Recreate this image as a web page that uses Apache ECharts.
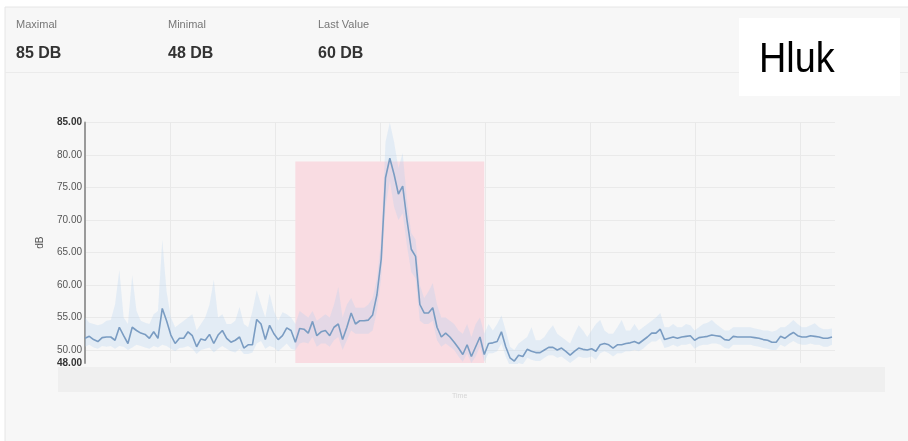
<!DOCTYPE html>
<html>
<head>
<meta charset="utf-8">
<script src="https://cdn.jsdelivr.net/npm/echarts@6/dist/echarts.min.js"></script>
<style>
  html, body { margin: 0; padding: 0; background: #fff; }
  #chart { width: 908px; height: 441px; }
</style>
</head>
<body>
<div id="chart"></div>
<script>
// header stats
const statLabels = ["Maximal", "Minimal", "Last Value"];
const statValues = ["85 DB", "48 DB", "60 DB"];
const chartTitle = "Hluk";

// noise level (dB), mean line
const values = [
    51.8, 52.1, 51.6, 51.3, 51.9, 52, 52, 51.5, 53.5, 52.2,
    51, 53.5, 53, 52.6, 52.4, 51.8, 52.8, 51.8, 56.4, 54.5,
    52.3, 51, 51.8, 51.8, 52.8, 52.2, 50.5, 51.7, 51.5, 52.4,
    51, 52.3, 53, 51.8, 51.2, 51.5, 52, 50.3, 50.8, 50.8,
    54.7, 54, 51.6, 53.8, 52.5, 51.6, 52.2, 53.4, 53,
    51.2, 53.3, 53.2, 52.6, 54.4, 52.2, 52.8, 53, 52.2, 53.5,
    54, 51.6, 53.5, 55.7, 54, 54.5, 54.5, 54.6, 55.4, 58.5,
    64, 76.5, 79.5, 77, 74, 75.2, 70, 65.5, 64.4, 57,
    55.7, 55.7, 56.5, 53.5, 52, 52.6, 52, 51.2, 50.3, 49.3,
    50.8, 49, 50.5, 52, 49.3, 51,
    51.1, 51.3, 52.8, 50.5, 48.8, 48.3, 49.2, 49, 50.1, 49.8,
    49.6, 49.6, 50, 50.4, 50.4, 50, 50.3, 49.8, 49.2, 49.8,
    50.3, 50.1, 50, 50.2, 49.8, 50.8, 51, 50.8, 50.3, 50.8,
    50.8, 51, 51.1, 51.3, 51, 51.5, 52, 52.6, 52.6, 53.2,
    51.6, 51.8, 52, 51.8, 52, 52.1, 52.2, 51.5, 51.9, 52,
    52.1, 52.3, 52.2, 52.1, 51.6, 51.5, 52.1, 52, 52, 52,
    52, 51.9, 51.8, 51.6, 51.5, 51.2, 51.2, 52.1, 51.8, 52.3,
    52.7, 52.2, 52, 52, 52.2, 52.1, 52, 51.8, 51.8, 52
];

// band: upper bound
const upper = [
    55, 54.2, 54, 53.8, 54, 54.5, 54.6, 57, 62.3, 55,
    54, 61.5, 56, 54.5, 54.2, 54, 55.5, 56, 67, 59,
    55, 53.5, 54, 54.5, 55, 55.5, 53, 54, 55, 57,
    60.8, 55, 55.5, 54, 54, 54.5, 56.6, 54, 53.5, 56,
    59.2, 57, 55, 58.7, 56, 54.5, 55.8, 55.5, 55,
    54, 56, 55.5, 55, 56, 54.5, 55, 55.5, 55, 57,
    59.7, 55, 57, 58, 56.5, 56.5, 56.5, 57, 58, 61,
    67, 82, 85, 82, 78, 80.3, 73, 68, 67, 60,
    58, 59, 60.3, 57, 55, 55, 54.5, 54, 53, 52.5,
    54, 52, 54, 55, 52.5, 54,
    53, 54, 55.3, 53, 50.5, 50, 51, 51.5, 52, 53.5,
    51.5, 51.5, 52, 53, 53.8, 52.5, 52, 51.5, 51, 52.5,
    53.8, 53, 52, 53, 54, 54.6, 53, 52.5, 52.5, 53.5,
    54.6, 53, 53, 54, 53, 53.5, 54, 54.5, 55, 55.7,
    53.5, 53.5, 54, 53.5, 53.5, 54, 53.8, 53, 53.5, 54,
    54.2, 54.6, 54, 53.5, 53, 53, 53.5, 53.5, 53.5, 53.5,
    53.5, 53.3, 53.2, 53, 53, 52.8, 53, 53.5, 53.5, 54,
    54.6, 54, 53.5, 53.5, 53.8, 54.1, 53.5, 53.2, 53.2, 53.3
];

// band: lower bound
const lower = [
    50.5, 50.8, 50.4, 50.2, 50.6, 50.5, 50.6, 50.2, 50.6, 50.5,
    50, 50.4, 50.8, 50.6, 50.4, 50.2, 50.6, 50.4, 50.8, 50.6,
    50.2, 49.8, 50.3, 50.4, 50.6, 50.2, 49.4, 50, 50.2, 50.4,
    49.6, 50.2, 50.6, 50.2, 49.8, 49.6, 50.2, 49.4, 49.4, 49.6,
    51, 51.4, 50.2, 50.6, 50.4, 49.8, 50.4, 51, 50.2,
    50, 51, 51.2, 51, 52, 50.5, 51, 51, 50.5, 51.5,
    52, 50, 51.5, 53, 52.5, 52.5, 52.5, 52.5, 53, 56,
    61, 72, 76, 72, 70, 71, 66, 62, 61, 54.5,
    54, 54, 54.5, 51.5, 50.5, 51, 50.5, 50, 49, 48.2,
    49.5, 48, 49, 50.5, 48.2, 49.5,
    49.5, 49.8, 51, 49, 47.5, 47.2, 48, 47.8, 48.8, 48.5,
    48.3, 48.3, 48.8, 49.2, 49.2, 48.8, 49, 48.5, 48, 48.5,
    49, 48.8, 48.8, 49, 48.5, 49.5, 49.8, 49.5, 49, 49.5,
    49.5, 49.8, 49.8, 50, 49.8, 50.2, 50.8, 51.3, 51.3, 51.8,
    50.3, 50.5, 50.8, 50.5, 50.8, 50.8, 51, 50.2, 50.6, 50.8,
    50.8, 51, 51, 50.8, 50.3, 50.2, 50.8, 50.8, 50.8, 50.8,
    50.8, 50.6, 50.5, 50.3, 50.2, 50, 50, 50.8, 50.5, 51,
    51.4, 51, 50.8, 50.8, 51, 50.8, 50.8, 50.5, 50.5, 50.8
];

// highlighted interval (sample index from/to, top value)
const highlightFrom = 49;
const highlightTo = 93;
const highlightTop = 79;

// y tick labels
const yTicks = [48, 50, 55, 60, 65, 70, 75, 80, 85];

const categories = values.map((v, i) => String(i));
const bandWidth = upper.map((u, i) => +(u - lower[i]).toFixed(2));

const chart = echarts.init(document.getElementById("chart"));

const graphic = [
    { type: "rect", z: -10, silent: true, shape: { x: 0, y: 0, width: 908, height: 441 }, style: { fill: "#ffffff" } },
    { type: "rect", z: -9, silent: true, shape: { x: 5, y: 7, width: 910, height: 440 }, style: { fill: "#f7f7f7", stroke: "#e6e6e6", lineWidth: 1 } },
    { type: "line", z: -8, silent: true, shape: { x1: 5, y1: 72.5, x2: 908, y2: 72.5 }, style: { stroke: "#ebebeb", lineWidth: 1 } },
    { type: "rect", z: -7, silent: true, shape: { x: 739, y: 18, width: 161, height: 78 }, style: { fill: "#ffffff" } },
    {
        type: "text", z: 5, x: 759, y: 39, scaleX: 0.9,
        style: { text: chartTitle, fill: "#000", font: "42px 'Liberation Sans', Arial, sans-serif" }
    },
    { type: "rect", z: -7, silent: true, shape: { x: 58, y: 367, width: 827, height: 25 }, style: { fill: "#efefef" } },
    { type: "text", z: 5, left: 452, top: 393, style: { text: "Time", fill: "#d6d6d6", font: "7px 'Liberation Sans', Arial, sans-serif" } }
];
const statX = [16, 168, 318];
statLabels.forEach((t, i) => {
    graphic.push({ type: "text", left: statX[i], top: 19, style: { text: t, fill: "#777", font: "11px 'Liberation Sans', Arial, sans-serif" } });
    graphic.push({ type: "text", left: statX[i], top: 46, style: { text: statValues[i], fill: "#333", font: "bold 16px 'Liberation Sans', Arial, sans-serif" } });
});

chart.setOption({
    animation: false,
    backgroundColor: "transparent",
    graphic: graphic,
    grid: [
        { left: 85, right: 76, top: 122.5, bottom: 78 },
        // horizontal grid lines (50..85)
        { left: 85, right: 73, top: 122.5, bottom: 91 },
        // vertical grid lines
        { left: 170, width: 630, top: 122.5, bottom: 78 }
    ],
    xAxis: [
        {
            type: "category",
            gridIndex: 0,
            data: categories,
            boundaryGap: false,
            axisLine: { show: false },
            axisTick: { show: false },
            axisLabel: { show: false },
            splitLine: { show: false }
        },
        { type: "value", gridIndex: 1, min: 0, max: 1, show: false },
        {
            type: "value",
            gridIndex: 2,
            min: 0,
            max: 6,
            interval: 1,
            axisLine: { show: false },
            axisTick: { show: false },
            axisLabel: { show: false },
            splitLine: { show: true, lineStyle: { color: "#e9e9e9", width: 1 } }
        }
    ],
    yAxis: [
        {
            type: "value",
            gridIndex: 0,
            min: 48,
            max: 85,
            name: "dB",
            nameLocation: "middle",
            nameGap: 40,
            nameTextStyle: { color: "#555", fontSize: 10, fontFamily: "Liberation Sans" },
            axisLine: { show: true, lineStyle: { color: "#9a9a9a", width: 2 } },
            axisTick: { show: false },
            splitLine: { show: false },
            axisLabel: {
                customValues: yTicks,
                margin: 3,
                fontSize: 10,
                color: "#555",
                fontFamily: "Liberation Sans",
                formatter: v => (v === 48 || v === 85) ? "{b|" + v.toFixed(2) + "}" : v.toFixed(2),
                rich: { b: { fontSize: 10, fontWeight: "bold", color: "#333", fontFamily: "Liberation Sans" } }
            }
        },
        {
            type: "value",
            gridIndex: 1,
            min: 50,
            max: 85,
            interval: 5,
            axisLine: { show: false },
            axisTick: { show: false },
            axisLabel: { show: false },
            splitLine: { show: true, lineStyle: { color: "#eaeaea", width: 1 } }
        },
        { type: "value", gridIndex: 2, min: 0, max: 1, show: false }
    ],
    series: [
        {
            name: "highlight",
            type: "line",
            data: [],
            z: 1,
            markArea: {
                silent: true,
                itemStyle: { color: "#f9dce2" },
                data: [[{ xAxis: highlightFrom, yAxis: 48 }, { xAxis: highlightTo, yAxis: highlightTop }]]
            }
        },
        {
            name: "lower",
            type: "line",
            stack: "band",
            data: lower,
            symbol: "none",
            lineStyle: { opacity: 0 },
            z: 2
        },
        {
            name: "band",
            type: "line",
            stack: "band",
            data: bandWidth,
            symbol: "none",
            lineStyle: { opacity: 0 },
            areaStyle: { color: "rgba(175, 208, 240, 0.4)" },
            z: 2
        },
        {
            name: "dB",
            type: "line",
            data: values,
            symbol: "none",
            lineStyle: { color: "#7a9cc2", width: 1.6 },
            z: 3
        }
    ]
});
</script>
</body>
</html>
